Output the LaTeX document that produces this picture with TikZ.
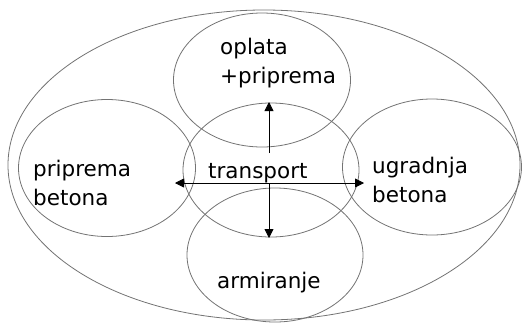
\documentclass[tikz,border=0pt]{standalone}
\usepackage{fontspec}
\setmainfont{DejaVu Sans}
\usetikzlibrary{shapes.geometric,arrows.meta}
\begin{document}
\begin{tikzpicture}[x=1pt,y=-1pt,
  ell/.style={draw=black!55,line width=0.8pt,ellipse,inner sep=0pt},
  lbl/.style={inner sep=0pt,anchor=base west,align=left,font=\fontsize{21.5}{29}\selectfont},
  arr/.style={line width=0.8pt,-{Triangle[length=9pt,width=9pt]}}]
\useasboundingbox (0,0) rectangle (524,322);
\node[ell,minimum width=512pt,minimum height=310pt] (outer) at (264,165) {};
\node[ell,minimum width=177pt,minimum height=134pt] (top) at (262,80) {};
\node[ell,minimum width=177pt,minimum height=137pt] (left) at (107,168) {};
\node[ell,minimum width=176pt,minimum height=134pt] (mid) at (271,170) {};
\node[ell,minimum width=179pt,minimum height=136pt] (right) at (432,167) {};
\node[ell,minimum width=176pt,minimum height=134pt] (bot) at (275,255) {};
\node[lbl] (tl) at (220,83) {oplata\\+priprema};
\node[lbl] (ll) at (33,205) {priprema\\betona};
\node[lbl] (rl) at (372,202) {ugradnja\\betona};
\node[lbl] (ml) at (208,178) {transport};
\node[lbl] (bl) at (217,288) {armiranje};
\coordinate (c) at (269,183);
\coordinate (cu) at (269,153);
\coordinate (hl) at (175,183);
\coordinate (hr) at (364,183);
\coordinate (vt) at (269,102);
\coordinate (vb) at (269,238);
\draw[arr] (c) -- (hl);
\draw[arr] (c) -- (hr);
\draw[arr] (cu) -- (vt);
\draw[arr] (c) -- (vb);
\end{tikzpicture}
\end{document}
